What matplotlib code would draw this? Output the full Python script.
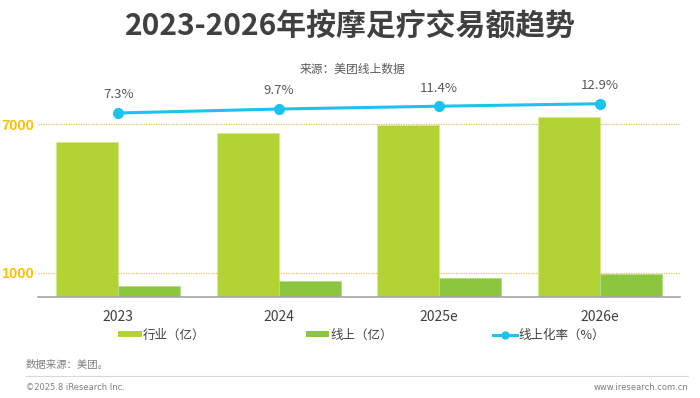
import matplotlib
matplotlib.use("Agg")
import matplotlib.pyplot as plt
from matplotlib.patches import Patch
from matplotlib.lines import Line2D
import numpy as np

plt.rcParams['font.family'] = ['Noto Sans CJK SC', 'DejaVu Sans']

years = ['2023', '2024', '2025e', '2026e']
industry = [6300, 6640, 6970, 7300]      # 行业（亿）
online = [460, 644, 795, 942]            # 线上（亿）
online_rate = [7.3, 9.7, 11.4, 12.9]     # 线上化率（%）
rate_labels = ['7.3%', '9.7%', '11.4%', '12.9%']
y_ticks = [1000, 7000]

c_ind = '#B3D234'
c_onl = '#8CC63F'
c_line = '#1CC3EF'
c_text = '#404040'

fig = plt.figure(figsize=(7, 3.98), dpi=100)
ax = fig.add_axes([38/700, 1-297.4/398, (680-38)/700, (297.4-85)/398])

x = np.arange(len(years))
w = 0.385
ax.bar(x - w/2, industry, width=w, color=c_ind, edgecolor='#D6E88A', linewidth=0.6, zorder=2)
ax.bar(x + w/2, online, width=w, color=c_onl, edgecolor='#B5DC8A', linewidth=0.6, zorder=2)
ax.set_xlim(-0.5, 3.5)
ax.set_ylim(0, 8589)
ax.set_yticks(y_ticks)
ax.set_yticklabels([str(v) for v in y_ticks])
for t in ax.get_yticklabels():
    t.set_fontfamily(['Liberation Sans', 'DejaVu Sans'])
    t.set_fontweight('bold')
    t.set_fontsize(10.5)
    t.set_color('#FFC000')
ax.tick_params(axis='y', length=0, pad=3)
ax.set_xticks(x)
ax.set_xticklabels(years, fontsize=10, color=c_text)
ax.tick_params(axis='x', length=0, pad=9)
ax.grid(axis='y', color='#E0C060', linestyle=(0, (1, 1)), linewidth=0.9, zorder=1)
for s in ['top', 'right', 'left']:
    ax.spines[s].set_visible(False)
ax.spines['bottom'].set_color('#A6A6A6')
ax.spines['bottom'].set_linewidth(1.2)

ax2 = ax.twinx()
ax2.set_ylim(-104, 24.2)
ax2.plot(x, online_rate, color=c_line, linewidth=2.2, marker='o', markersize=7, zorder=3)
for xi, v, lab in zip(x, online_rate, rate_labels):
    ax2.annotate(lab, (xi, v), xytext=(0, 13), textcoords='offset points', ha='center', va='center',
                 fontsize=9.5, color='#595959')
ax2.axis('off')

# Title and subtitle
fig.text(0.5, 1-27/398, '2023-2026年按摩足疗交易额趋势', ha='center', va='center',
         fontsize=21.5, fontweight='bold', color='#404040')
fig.text(352/700, 1-69/398, '来源：美团线上数据', ha='center', va='center', fontsize=8.5, color='#595959')

# Legend
handles = [Patch(facecolor=c_ind, edgecolor='none'),
           Patch(facecolor=c_onl, edgecolor='none'),
           Line2D([0], [0], color=c_line, lw=2.2, marker='o', markersize=5)]
labels = ['行业（亿）', '线上（亿）', '线上化率（%）']
leg = fig.legend(handles, labels, loc='center left', bbox_to_anchor=(118/700, 1-335/398), ncol=3,
                 frameon=False, fontsize=9, handlelength=1.9, handleheight=0.4, handletextpad=0.1,
                 columnspacing=8.0, borderpad=0, borderaxespad=0)
for t in leg.get_texts():
    t.set_color(c_text)

# Footer
fig.text(26/700, 1-365/398, '数据来源：美团。', ha='left', va='center', fontsize=7.5, color='#7F7F7F')
fig.add_artist(Line2D([26/700, 688/700], [1-376/398, 1-376/398], color='#D9D9D9', lw=0.8))
fig.text(26/700, 1-387/398, '©2025.8 iResearch Inc.', ha='left', va='center', fontsize=6, color='#7F7F7F',
         family=['DejaVu Sans'])
fig.text(688/700, 1-387/398, 'www.iresearch.com.cn', ha='right', va='center', fontsize=6, color='#7F7F7F',
         family=['DejaVu Sans'])

fig.savefig('out.png', dpi=100)
